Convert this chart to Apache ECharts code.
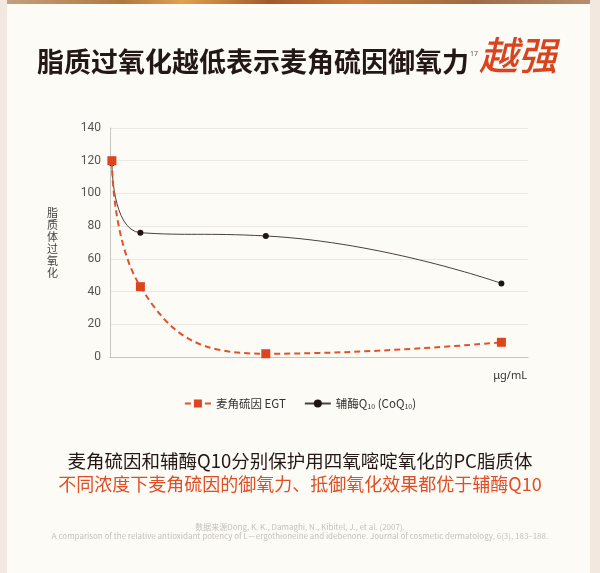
<!DOCTYPE html>
<html>
<head>
<meta charset="utf-8">
<script src="https://cdn.jsdelivr.net/npm/echarts@6/dist/echarts.min.js"></script>
<style>
  html, body { margin: 0; padding: 0; background: #fdfbf6; }
  #chart { width: 600px; height: 573px; }
</style>
</head>
<body>
<div id="chart"></div>
<script>
// concentrations (μg/mL)
var concentrations = [0.5, 8, 41, 103];
var egtValues = [120, 43, 2, 9];
var coqValues = [118.5, 76, 74, 45];
var yTicks = [0, 20, 40, 60, 80, 100, 120, 140];
var seriesNames = ['麦角硫因 EGT', '辅酶Q10 (CoQ10)'];

var pair = function (xs, ys) {
    return xs.map(function (x, i) { return [x, ys[i]]; });
};

var myChart = echarts.init(document.getElementById('chart'));
var option = {
    backgroundColor: '#fdfbf6',
    animation: false,
    textStyle: {fontFamily: '"Noto Sans CJK SC", "Noto Sans", sans-serif'},
    grid: {left: 110, right: 72, top: 128, bottom: 216},
    legend: {
        data: seriesNames,
        bottom: 158,
        left: 'center',
        itemWidth: 26,
        itemHeight: 10,
        itemGap: 18,
        textStyle: {
            color: '#333',
            fontSize: 11.5,
            rich: {
                sub: {fontSize: 7, color: '#333', padding: [6, 0, 0, 0]}
            }
        },
        formatter: function (name) {
            if (name === seriesNames[1]) {
                return '辅酶Q{sub|10} (CoQ{sub|10})';
            }
            return name;
        }
    },
    xAxis: {
        type: 'value',
        min: 0,
        max: 110,
        axisLine: {show: true, lineStyle: {color: '#c9c6c1', width: 1}},
        axisTick: {show: false},
        axisLabel: {show: false},
        splitLine: {show: false}
    },
    yAxis: {
        type: 'value',
        min: yTicks[0],
        max: yTicks[yTicks.length - 1],
        interval: 20,
        name: '脂\n质\n体\n过\n氧\n化',
        nameLocation: 'middle',
        nameRotate: 0,
        nameGap: 52,
        nameTextStyle: {color: '#444', fontSize: 11, lineHeight: 12},
        axisLine: {show: true, lineStyle: {color: '#c9c6c1', width: 1}},
        axisTick: {show: false},
        axisLabel: {color: '#555', fontSize: 12, margin: 9, fontFamily: 'Roboto, sans-serif'},
        splitLine: {lineStyle: {color: '#ece9e2', width: 1}}
    },
    series: [
        {
            name: seriesNames[0],
            type: 'line',
            smooth: 0.5,
            data: pair(concentrations, egtValues),
            symbol: 'rect',
            symbolSize: 9,
            itemStyle: {color: '#db4520'},
            lineStyle: {color: '#e0522b', width: 2, type: [6, 4]},
            z: 3
        },
        {
            name: seriesNames[1],
            type: 'line',
            smooth: 0.5,
            data: pair(concentrations, coqValues),
            symbol: 'circle',
            symbolSize: 6,
            itemStyle: {color: '#1e1410'},
            lineStyle: {color: '#4a403c', width: 1},
            z: 2
        }
    ],
    graphic: [
        // frame
        {type: 'rect', shape: {x: 0, y: 0, width: 7, height: 573}, style: {fill: '#f3e8df'}, silent: true},
        {type: 'rect', shape: {x: 590, y: 0, width: 10, height: 573}, style: {fill: '#f3e8df'}, silent: true},
        {
            type: 'rect', shape: {x: 7, y: 0, width: 583, height: 4}, silent: true,
            style: {
                fill: new echarts.graphic.LinearGradient(0, 0, 1, 0, [
                    {offset: 0, color: '#c4a07d'},
                    {offset: 0.2, color: '#b0773f'},
                    {offset: 0.3, color: '#e2a14e'},
                    {offset: 0.45, color: '#a3582a'},
                    {offset: 0.6, color: '#c77a3a'},
                    {offset: 0.8, color: '#9e6a45'},
                    {offset: 1, color: '#b88e6c'}
                ])
            }
        },
        // headline
        {
            type: 'text', left: 37, top: 48,
            style: {
                text: '脂质过氧化越低表示麦角硫因御氧力',
                fill: '#231815', font: 'bold 27px "Noto Sans CJK SC"'
            }
        },
        {
            type: 'text', left: 470, top: 50,
            style: {text: '17', fill: '#555', font: '7px "Noto Sans"'}
        },
        {
            type: 'text', left: 479, top: 36,
            style: {text: '越强', fill: '#d9441f', font: 'italic 500 39px "Noto Sans CJK SC"'}
        },
        // x axis unit
        {
            type: 'text', right: 73, top: 370,
            style: {text: 'μg/mL', fill: '#333', font: '11px "Noto Sans"'}
        },
        // conclusion
        {
            type: 'text', left: 'center', top: 452,
            style: {
                text: '麦角硫因和辅酶Q10分别保护用四氧嘧啶氧化的PC脂质体',
                fill: '#231815', font: '18.5px "Noto Sans CJK SC"'
            }
        },
        {
            type: 'text', left: 'center', top: 475,
            style: {
                text: '不同浓度下麦角硫因的御氧力、抵御氧化效果都优于辅酶Q10',
                fill: '#e04e26', font: '18px "Noto Sans CJK SC"'
            }
        },
        // source
        {
            type: 'text', left: 'center', top: 523,
            style: {
                text: '数据来源Dong, K. K., Damaghi, N., Kibitel, J., et al. (2007).',
                fill: '#c6c1bb', font: '8px "Noto Sans CJK SC"'
            }
        },
        {
            type: 'text', left: 'center', top: 532,
            style: {
                text: 'A comparison of the relative antioxidant potency of L－ergothioneine and idebenone. Journal of cosmetic dermatology, 6(3), 183–188.',
                fill: '#c6c1bb', font: '8px "Noto Sans CJK SC"'
            }
        }
    ]
};
myChart.setOption(option);
</script>
</body>
</html>
